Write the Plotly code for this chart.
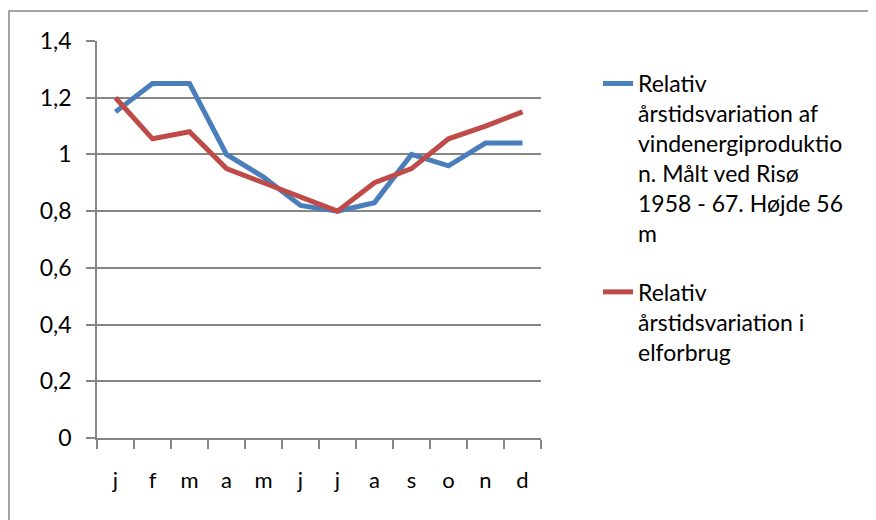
import plotly.graph_objects as go

months = ["j", "f", "m", "a", "m", "j", "j", "a", "s", "o", "n", "d"]
wind = [1.15, 1.25, 1.25, 1.00, 0.92, 0.82, 0.80, 0.83, 1.00, 0.96, 1.04, 1.04]
power = [1.20, 1.055, 1.08, 0.95, 0.90, 0.85, 0.80, 0.90, 0.95, 1.055, 1.10, 1.15]
y_ticks = [0, 0.2, 0.4, 0.6, 0.8, 1.0, 1.2, 1.4]
y_ticktext = ["0", "0,2", "0,4", "0,6", "0,8", "1", "1,2", "1,4"]
name_wind = "Relativ<br>årstidsvariation af<br>vindenergiproduktio<br>n. Målt ved Risø<br>1958 - 67. Højde 56<br>m"
name_power = "Relativ<br>årstidsvariation i<br>elforbrug"

# unique category keys (month letters repeat), labelled with the month letters
cats = [f"{i:02d}" for i in range(len(months))]

fig = go.Figure()
fig.add_trace(go.Scatter(x=cats, y=wind, mode="lines", name=name_wind, legendgroup="a",
                         line=dict(color="#4a7ebb", width=5)))
fig.add_trace(go.Scatter(x=cats, y=power, mode="lines", name=name_power, legendgroup="b",
                         line=dict(color="#be4b48", width=5)))

FONT = "Lato"
OFF = 8  # page body margin
W, H = 876 - OFF, 520 - OFF
L, R, T, B = 97 - OFF, 876 - 541, 41 - OFF, 520 - 438
pw, ph = W - L - R, H - T - B

def px(x):
    return (x - OFF - L) / pw

def py(y):
    return (H - B - (y - OFF)) / ph

fig.update_layout(
    width=W, height=H,
    margin=dict(l=L, r=R, t=T, b=B),
    paper_bgcolor="white", plot_bgcolor="white",
    separators=", ",
    font=dict(family=FONT, size=22, color="black"),
    showlegend=True,
    legend=dict(x=px(598), y=py(62), xanchor="left", yanchor="top",
                valign="top", font=dict(size=23, family=FONT),
                tracegroupgap=26, itemwidth=30, bgcolor="rgba(0,0,0,0)"),
    xaxis=dict(type="category", categoryorder="array", categoryarray=cats,
               range=[-0.5, len(cats) - 0.5],
               tickmode="array", tickvals=cats, ticktext=months, tickson="boundaries",
               showgrid=False, showline=True, linecolor="#868686", linewidth=1.5,
               ticks="outside", ticklen=9, tickcolor="#868686", tickwidth=1.5,
               tickfont=dict(size=22), ticklabelstandoff=22, zeroline=False,
               fixedrange=True),
    yaxis=dict(range=[0, 1.4], tickmode="array", tickvals=y_ticks, ticktext=y_ticktext,
               showgrid=True, gridcolor="#868686",
               gridwidth=1.5, showline=True, linecolor="#868686", linewidth=1.5,
               ticks="outside", ticklen=9, tickcolor="#868686", tickwidth=1.5,
               tickfont=dict(size=23), ticklabelstandoff=10, zeroline=False,
               fixedrange=True),
    shapes=[dict(type="rect", xref="paper", yref="paper",
                 x0=px(9), x1=px(900), y0=py(540), y1=py(11),
                 line=dict(color="#868686", width=1.5), layer="below")],
)

fig.write_html("out.html")
